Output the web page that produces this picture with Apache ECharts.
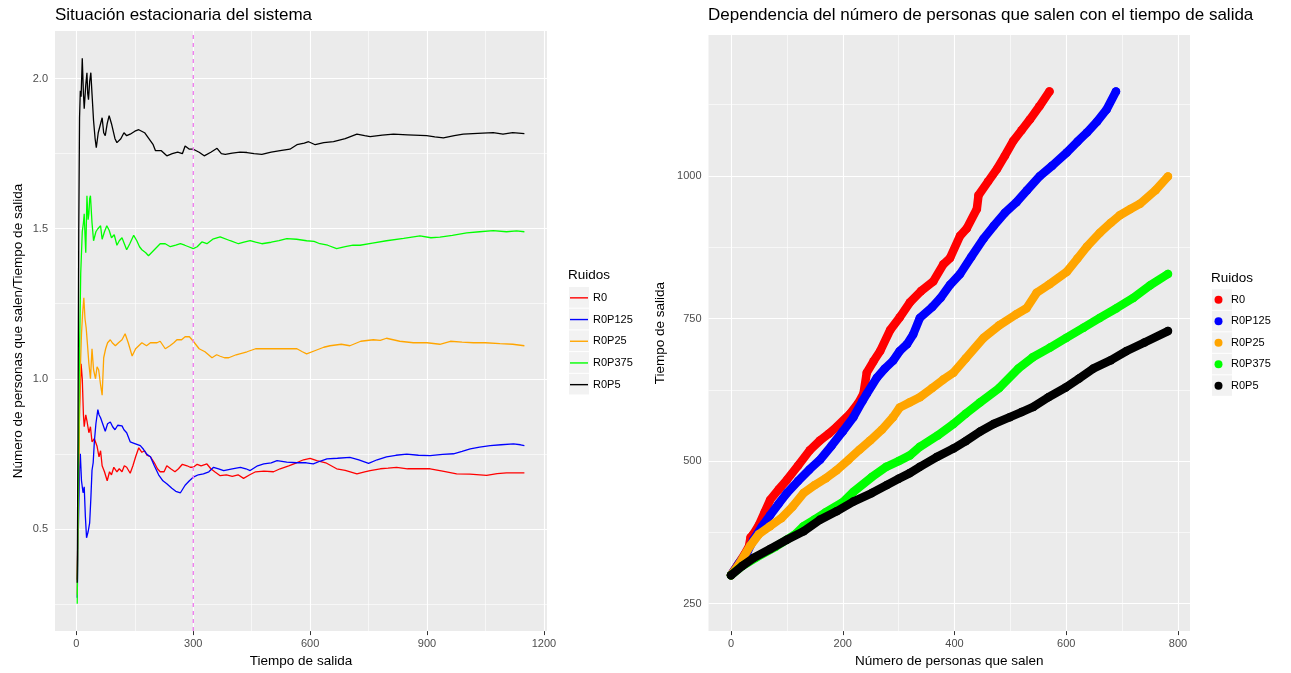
<!DOCTYPE html>
<html>
<head>
<meta charset="utf-8">
<script src="https://cdn.jsdelivr.net/npm/echarts@6/dist/echarts.min.js"></script>
<style>
  html, body { margin: 0; padding: 0; background: #ffffff; }
  #chart { width: 1291px; height: 673px; }
</style>
</head>
<body>
<div id="chart"></div>
<script>
// Noise levels and their colours
const noiseLevels = ['R0', 'R0P125', 'R0P25', 'R0P375', 'R0P5'];
const noiseColors = ['#FF0000', '#0000FF', '#FFA500', '#00FF00', '#000000'];

// Left panel: people out / exit time, against exit time  [tiempo, ratio]
const rateR0 = [[2,0.33],[5,0.6],[8,0.9],[12,1.05],[15,1.0],[18,0.88],[20,0.84],[24,0.88],[27,0.86],[32,0.82],[36,0.84],[40,0.79],[46,0.8],[53,0.775],[58,0.74],[62,0.76],[66,0.71],[72,0.69],[79,0.66],[85,0.69],[90,0.68],[96,0.705],[104,0.69],[110,0.70],[117,0.69],[123,0.71],[129,0.705],[138,0.685],[145,0.71],[152,0.74],[160,0.77],[168,0.755],[175,0.76],[181,0.745],[190,0.74],[200,0.72],[208,0.70],[215,0.69],[225,0.69],[232,0.71],[242,0.70],[253,0.69],[262,0.70],[272,0.715],[284,0.71],[292,0.705],[300,0.705],[310,0.715],[320,0.71],[335,0.716],[345,0.70],[355,0.69],[369,0.677],[385,0.68],[400,0.675],[415,0.68],[429,0.668],[445,0.68],[460,0.69],[481,0.692],[506,0.69],[523,0.70],[545,0.71],[565,0.72],[583,0.73],[600,0.735],[617,0.727],[640,0.72],[668,0.70],[690,0.695],[720,0.683],[740,0.69],[754,0.694],[780,0.70],[800,0.702],[822,0.705],[850,0.70],[880,0.70],[908,0.70],[940,0.692],[976,0.683],[1010,0.682],[1053,0.678],[1080,0.684],[1104,0.686],[1130,0.686],[1150,0.686]];
const rateR0P125 = [[2,0.27],[5,0.5],[8,0.7],[10,0.75],[13,0.66],[17,0.62],[20,0.64],[23,0.54],[26,0.47],[30,0.49],[34,0.52],[37,0.6],[40,0.695],[43,0.72],[46,0.79],[50,0.85],[55,0.897],[58,0.88],[62,0.87],[66,0.868],[70,0.84],[74,0.825],[80,0.85],[87,0.856],[93,0.84],[99,0.83],[106,0.845],[117,0.843],[122,0.83],[129,0.82],[138,0.79],[148,0.785],[164,0.777],[172,0.765],[181,0.748],[190,0.74],[200,0.71],[211,0.68],[222,0.66],[232,0.65],[245,0.635],[255,0.625],[267,0.62],[279,0.645],[290,0.66],[300,0.672],[313,0.68],[326,0.683],[340,0.69],[352,0.705],[365,0.70],[378,0.694],[400,0.70],[421,0.705],[435,0.70],[446,0.694],[465,0.71],[481,0.716],[500,0.72],[515,0.727],[540,0.722],[566,0.72],[590,0.72],[608,0.716],[625,0.725],[643,0.733],[670,0.735],[702,0.738],[725,0.73],[750,0.718],[772,0.73],[796,0.74],[820,0.745],[848,0.749],[878,0.745],[908,0.744],[940,0.748],[968,0.75],[990,0.758],[1011,0.766],[1035,0.772],[1062,0.777],[1090,0.78],[1122,0.783],[1140,0.78],[1150,0.777]];
const rateR0P25 = [[2,0.28],[5,0.6],[8,0.9],[10,1.03],[13,1.15],[16,1.22],[19,1.27],[22,1.2],[25,1.17],[28,1.12],[32,1.05],[36,1.0],[40,1.10],[44,1.03],[49,1.0],[53,1.04],[57,1.03],[62,0.98],[66,0.945],[70,1.07],[75,1.10],[80,1.12],[87,1.13],[92,1.12],[100,1.11],[108,1.12],[117,1.13],[125,1.15],[133,1.12],[143,1.076],[152,1.10],[160,1.11],[168,1.12],[180,1.11],[190,1.12],[198,1.12],[207,1.12],[215,1.125],[228,1.10],[240,1.11],[250,1.12],[258,1.13],[270,1.13],[279,1.14],[290,1.14],[300,1.125],[315,1.10],[330,1.09],[348,1.07],[360,1.08],[369,1.075],[380,1.07],[391,1.07],[410,1.08],[438,1.09],[460,1.10],[481,1.10],[500,1.10],[530,1.10],[566,1.10],[580,1.09],[591,1.083],[615,1.095],[635,1.105],[651,1.11],[680,1.115],[702,1.11],[730,1.125],[762,1.13],[780,1.128],[796,1.135],[830,1.125],[865,1.12],[900,1.12],[933,1.115],[960,1.125],[990,1.122],[1019,1.12],[1050,1.12],[1087,1.117],[1120,1.115],[1150,1.11]];
const rateR0P375 = [[2,0.25],[5,0.7],[8,1.1],[11,1.35],[15,1.49],[18,1.52],[20,1.55],[22,1.48],[24,1.42],[27,1.61],[30,1.53],[32,1.55],[34,1.6],[36,1.61],[40,1.52],[44,1.46],[50,1.49],[55,1.50],[62,1.51],[66,1.465],[72,1.49],[78,1.51],[84,1.495],[90,1.47],[97,1.48],[104,1.445],[110,1.46],[117,1.47],[123,1.45],[129,1.43],[137,1.45],[147,1.478],[155,1.46],[162,1.44],[168,1.43],[178,1.42],[185,1.41],[200,1.43],[215,1.45],[228,1.45],[241,1.44],[255,1.445],[267,1.45],[278,1.445],[288,1.44],[300,1.434],[310,1.44],[322,1.456],[335,1.45],[350,1.465],[369,1.473],[395,1.46],[416,1.45],[430,1.455],[446,1.46],[460,1.455],[476,1.45],[500,1.455],[520,1.46],[540,1.467],[565,1.465],[591,1.46],[610,1.458],[625,1.45],[645,1.445],[668,1.434],[690,1.44],[710,1.445],[728,1.445],[760,1.452],[796,1.46],[840,1.468],[882,1.476],[910,1.47],[933,1.472],[965,1.478],[1002,1.486],[1035,1.49],[1070,1.494],[1104,1.49],[1130,1.493],[1150,1.49]];
const rateR0P5 = [[2,0.32],[4,0.8],[6,1.5],[8,1.87],[10,1.96],[12,1.94],[15,2.068],[18,1.95],[20,1.90],[24,1.98],[27,2.02],[29,1.95],[31,1.93],[34,1.99],[37,2.02],[40,1.95],[44,1.86],[48,1.8],[51,1.77],[56,1.82],[60,1.84],[66,1.87],[70,1.82],[74,1.81],[79,1.85],[84,1.877],[90,1.85],[99,1.80],[104,1.787],[114,1.80],[122,1.82],[129,1.81],[138,1.815],[150,1.825],[160,1.83],[175,1.82],[186,1.80],[197,1.78],[203,1.76],[218,1.76],[232,1.743],[246,1.75],[260,1.755],[272,1.75],[279,1.776],[290,1.765],[300,1.765],[315,1.755],[328,1.743],[345,1.755],[361,1.768],[372,1.75],[382,1.748],[400,1.752],[420,1.755],[438,1.754],[456,1.75],[476,1.748],[500,1.755],[523,1.76],[548,1.765],[566,1.78],[585,1.785],[596,1.79],[613,1.78],[635,1.787],[660,1.79],[690,1.80],[720,1.815],[740,1.81],[754,1.807],[785,1.812],[814,1.815],[850,1.813],[899,1.81],[920,1.806],[942,1.803],[970,1.81],[993,1.815],[1030,1.818],[1070,1.82],[1095,1.815],[1120,1.82],[1150,1.817]];

// Right panel: exit time against number of people out  [personas, tiempo]
const timeR0 = [[0,300],[12,318],[24,336],[32,350],[35,366],[40,372],[50,388],[60,410],[70,432],[85,450],[100,467],[120,492],[141,519],[159,536],[175,548],[189,560],[213,583],[228,602],[237,618],[243,655],[255,675],[267,693],[285,730],[302,752],[320,778],[340,798],[362,815],[380,845],[392,856],[410,895],[422,908],[440,942],[443,966],[460,990],[476,1012],[490,1035],[505,1061],[520,1080],[535,1099],[552,1122],[570,1148]];
const timeR0P125 = [[0,300],[15,322],[30,342],[40,362],[55,385],[70,405],[85,425],[100,444],[120,465],[140,485],[159,502],[180,527],[200,552],[219,577],[235,605],[243,618],[261,646],[275,662],[290,676],[302,693],[315,705],[326,722],[338,751],[360,770],[375,786],[392,809],[410,828],[430,858],[452,890],[470,912],[490,935],[511,954],[530,975],[553,1000],[575,1018],[601,1041],[620,1060],[637,1076],[655,1095],[672,1116],[689,1148]];
const timeR0P25 = [[0,300],[15,320],[34,351],[50,372],[70,386],[90,400],[110,420],[130,444],[150,458],[170,470],[189,484],[210,502],[230,520],[249,536],[270,555],[290,577],[302,594],[320,603],[338,612],[360,628],[380,643],[398,655],[420,680],[452,716],[480,738],[510,757],[529,768],[547,795],[570,810],[601,832],[620,855],[637,876],[660,900],[680,918],[696,931],[715,942],[732,951],[760,975],[782,999]];
const timeR0P375 = [[0,300],[20,316],[45,331],[80,350],[114,371],[130,386],[150,398],[169,410],[200,428],[219,446],[252,472],[278,490],[300,500],[320,510],[338,525],[370,545],[398,565],[420,583],[446,603],[480,628],[514,662],[540,682],[571,699],[600,716],[631,734],[660,751],[690,768],[720,786],[750,808],[782,828]];
const timeR0P5 = [[0,300],[20,316],[40,330],[70,346],[100,362],[130,377],[159,397],[189,412],[219,429],[252,444],[279,458],[300,469],[320,479],[338,490],[368,507],[398,522],[420,535],[446,552],[470,565],[499,577],[520,586],[541,595],[568,612],[599,629],[623,645],[648,662],[680,677],[708,693],[740,708],[782,728]];

// Axis ranges, ticks and grid lines
const rateXRange = [-55, 1208];
const rateYRange = [0.159, 2.159];
const timeXRange = [-40.3, 821.5];
const timeYRange = [202, 1247];
const rateXTicks = [0, 300, 600, 900, 1200];
const rateXMinor = [150, 450, 750, 1050];
const rateYTicks = [0.5, 1.0, 1.5, 2.0];
const rateYMinor = [0.25, 0.75, 1.25, 1.75];
const timeXTicks = [0, 200, 400, 600, 800];
const timeXMinor = [100, 300, 500, 700];
const timeYTicks = [250, 500, 750, 1000];
const timeYMinor = [375, 625, 875, 1125];
const steadyStateStart = 300;

const rateSeriesData = [rateR0, rateR0P125, rateR0P25, rateR0P375, rateR0P5];
const timeSeriesData = [timeR0, timeR0P125, timeR0P25, timeR0P375, timeR0P5];

const FONT = '"Liberation Sans", Arial, Helvetica, sans-serif';
const PANEL_BG = '#EBEBEB';
const TICK_TEXT = '#4D4D4D';
const STEADY_COLOR = '#EE82EE';

function gridLines(key, majors, minors) {
  const lines = [];
  minors.forEach(v => lines.push({ [key]: v, lineStyle: { color: '#FFFFFF', width: 0.6, type: 'solid' } }));
  majors.forEach(v => lines.push({ [key]: v, lineStyle: { color: '#FFFFFF', width: 1.1, type: 'solid' } }));
  return lines;
}

function gridSeries(idx, xMaj, xMin, yMaj, yMin) {
  return {
    type: 'line', xAxisIndex: idx, yAxisIndex: idx, data: [], silent: true, z: 1,
    markLine: {
      silent: true, symbol: ['none', 'none'], label: { show: false }, z: 1, animation: false,
      emphasis: { disabled: true },
      data: gridLines('xAxis', xMaj, xMin).concat(gridLines('yAxis', yMaj, yMin))
    }
  };
}

function axisCommon(ticks, fmt) {
  return {
    type: 'value',
    axisLine: { show: false },
    splitLine: { show: false },
    axisTick: { show: true, customValues: ticks, length: 4, lineStyle: { color: '#333333', width: 1 } },
    axisLabel: { customValues: ticks, color: TICK_TEXT, fontSize: 11, fontFamily: FONT, margin: 7, formatter: fmt },
    nameLocation: 'middle',
    nameTextStyle: { color: '#000000', fontSize: 13.5, fontFamily: FONT }
  };
}

const series = [];
series.push(gridSeries(0, rateXTicks, rateXMinor, rateYTicks, rateYMinor));
series.push(gridSeries(1, timeXTicks, timeXMinor, timeYTicks, timeYMinor));

noiseLevels.forEach((name, i) => {
  series.push({
    name: name, type: 'line', xAxisIndex: 0, yAxisIndex: 0, z: 2,
    data: rateSeriesData[i], symbol: 'none', silent: true, animation: false,
    lineStyle: { color: noiseColors[i], width: 1.3 }, itemStyle: { color: noiseColors[i] }
  });
});

// Dashed vertical marker for the start of the steady state, spanning the whole panel
series.push({
  name: 'inicio estacionario', type: 'line', xAxisIndex: 0, yAxisIndex: 0, z: 4,
  data: [[steadyStateStart, rateYRange[0]], [steadyStateStart, rateYRange[1]]],
  symbol: 'none', silent: true, animation: false,
  lineStyle: { color: STEADY_COLOR, width: 1.4, type: [4, 4] },
  itemStyle: { color: STEADY_COLOR }
});

// Each noise level on its own layer so later levels sit on top of earlier ones
noiseLevels.forEach((name, i) => {
  series.push({
    name: name, type: 'line', xAxisIndex: 1, yAxisIndex: 1, z: 10 + i,
    data: timeSeriesData[i], symbol: 'circle', symbolSize: 8.5, showSymbol: true, showAllSymbol: true,
    silent: true, animation: false,
    lineStyle: { color: noiseColors[i], width: 8.5, cap: 'round', join: 'round' },
    itemStyle: { color: noiseColors[i] }
  });
});

// Light key boxes behind the legend entries
const keyBoxes = [];
for (let i = 0; i < noiseLevels.length; i++) {
  keyBoxes.push({ type: 'rect', left: 569, top: 287 + 21.7 * i, shape: { width: 20, height: 20.7 }, style: { fill: '#F2F2F2' }, z: 0 });
  keyBoxes.push({ type: 'rect', left: 1212, top: 289.3 + 21.5 * i, shape: { width: 20, height: 20.5 }, style: { fill: '#F2F2F2' }, z: 0 });
}

const option = {
  backgroundColor: '#FFFFFF',
  animation: false,
  textStyle: { fontFamily: FONT },
  title: [
    { text: 'Situación estacionaria del sistema', left: 55, top: 7, padding: 0,
      textStyle: { fontSize: 17, fontWeight: 'normal', color: '#000000', fontFamily: FONT } },
    { text: 'Dependencia del número de personas que salen con el tiempo de salida', left: 708, top: 7, padding: 0,
      textStyle: { fontSize: 17, fontWeight: 'normal', color: '#000000', fontFamily: FONT } },
    { text: 'Ruidos', left: 568, top: 268, padding: 0,
      textStyle: { fontSize: 13.5, fontWeight: 'normal', color: '#000000', fontFamily: FONT } },
    { text: 'Ruidos', left: 1211, top: 271, padding: 0,
      textStyle: { fontSize: 13.5, fontWeight: 'normal', color: '#000000', fontFamily: FONT } }
  ],
  legend: [
    { data: noiseLevels, orient: 'vertical', left: 570, top: 287, padding: 0, itemGap: 0,
      itemWidth: 18, itemHeight: 1.4, icon: 'rect', selectedMode: false,
      textStyle: { fontSize: 11, color: '#000000', lineHeight: 21.7, fontFamily: FONT } },
    { data: noiseLevels, orient: 'vertical', left: 1214.5, top: 289, padding: 0, itemGap: 0,
      itemWidth: 15, itemHeight: 8, icon: 'circle', selectedMode: false,
      textStyle: { fontSize: 11, color: '#000000', lineHeight: 21.5, fontFamily: FONT } }
  ],
  graphic: keyBoxes,
  grid: [
    { left: 55, top: 31, width: 492, height: 604, show: true, backgroundColor: PANEL_BG, borderWidth: 0, containLabel: false },
    { left: 708.5, top: 35, width: 481.5, height: 600.5, show: true, backgroundColor: PANEL_BG, borderWidth: 0, containLabel: false }
  ],
  xAxis: [
    Object.assign(axisCommon(rateXTicks, v => String(v)), {
      gridIndex: 0, min: rateXRange[0], max: rateXRange[1], name: 'Tiempo de salida', nameGap: 20
    }),
    Object.assign(axisCommon(timeXTicks, v => String(v)), {
      gridIndex: 1, min: timeXRange[0], max: timeXRange[1], name: 'Número de personas que salen', nameGap: 20
    })
  ],
  yAxis: [
    Object.assign(axisCommon(rateYTicks, v => v.toFixed(1)), {
      gridIndex: 0, min: rateYRange[0], max: rateYRange[1], name: 'Número de personas que salen/Tiempo de salida', nameGap: 30
    }),
    Object.assign(axisCommon(timeYTicks, v => String(v)), {
      gridIndex: 1, min: timeYRange[0], max: timeYRange[1], name: 'Tiempo de salida', nameGap: 41
    })
  ],
  series: series
};

const chart = echarts.init(document.getElementById('chart'), null, { renderer: 'canvas' });
chart.setOption(option);
</script>
</body>
</html>
